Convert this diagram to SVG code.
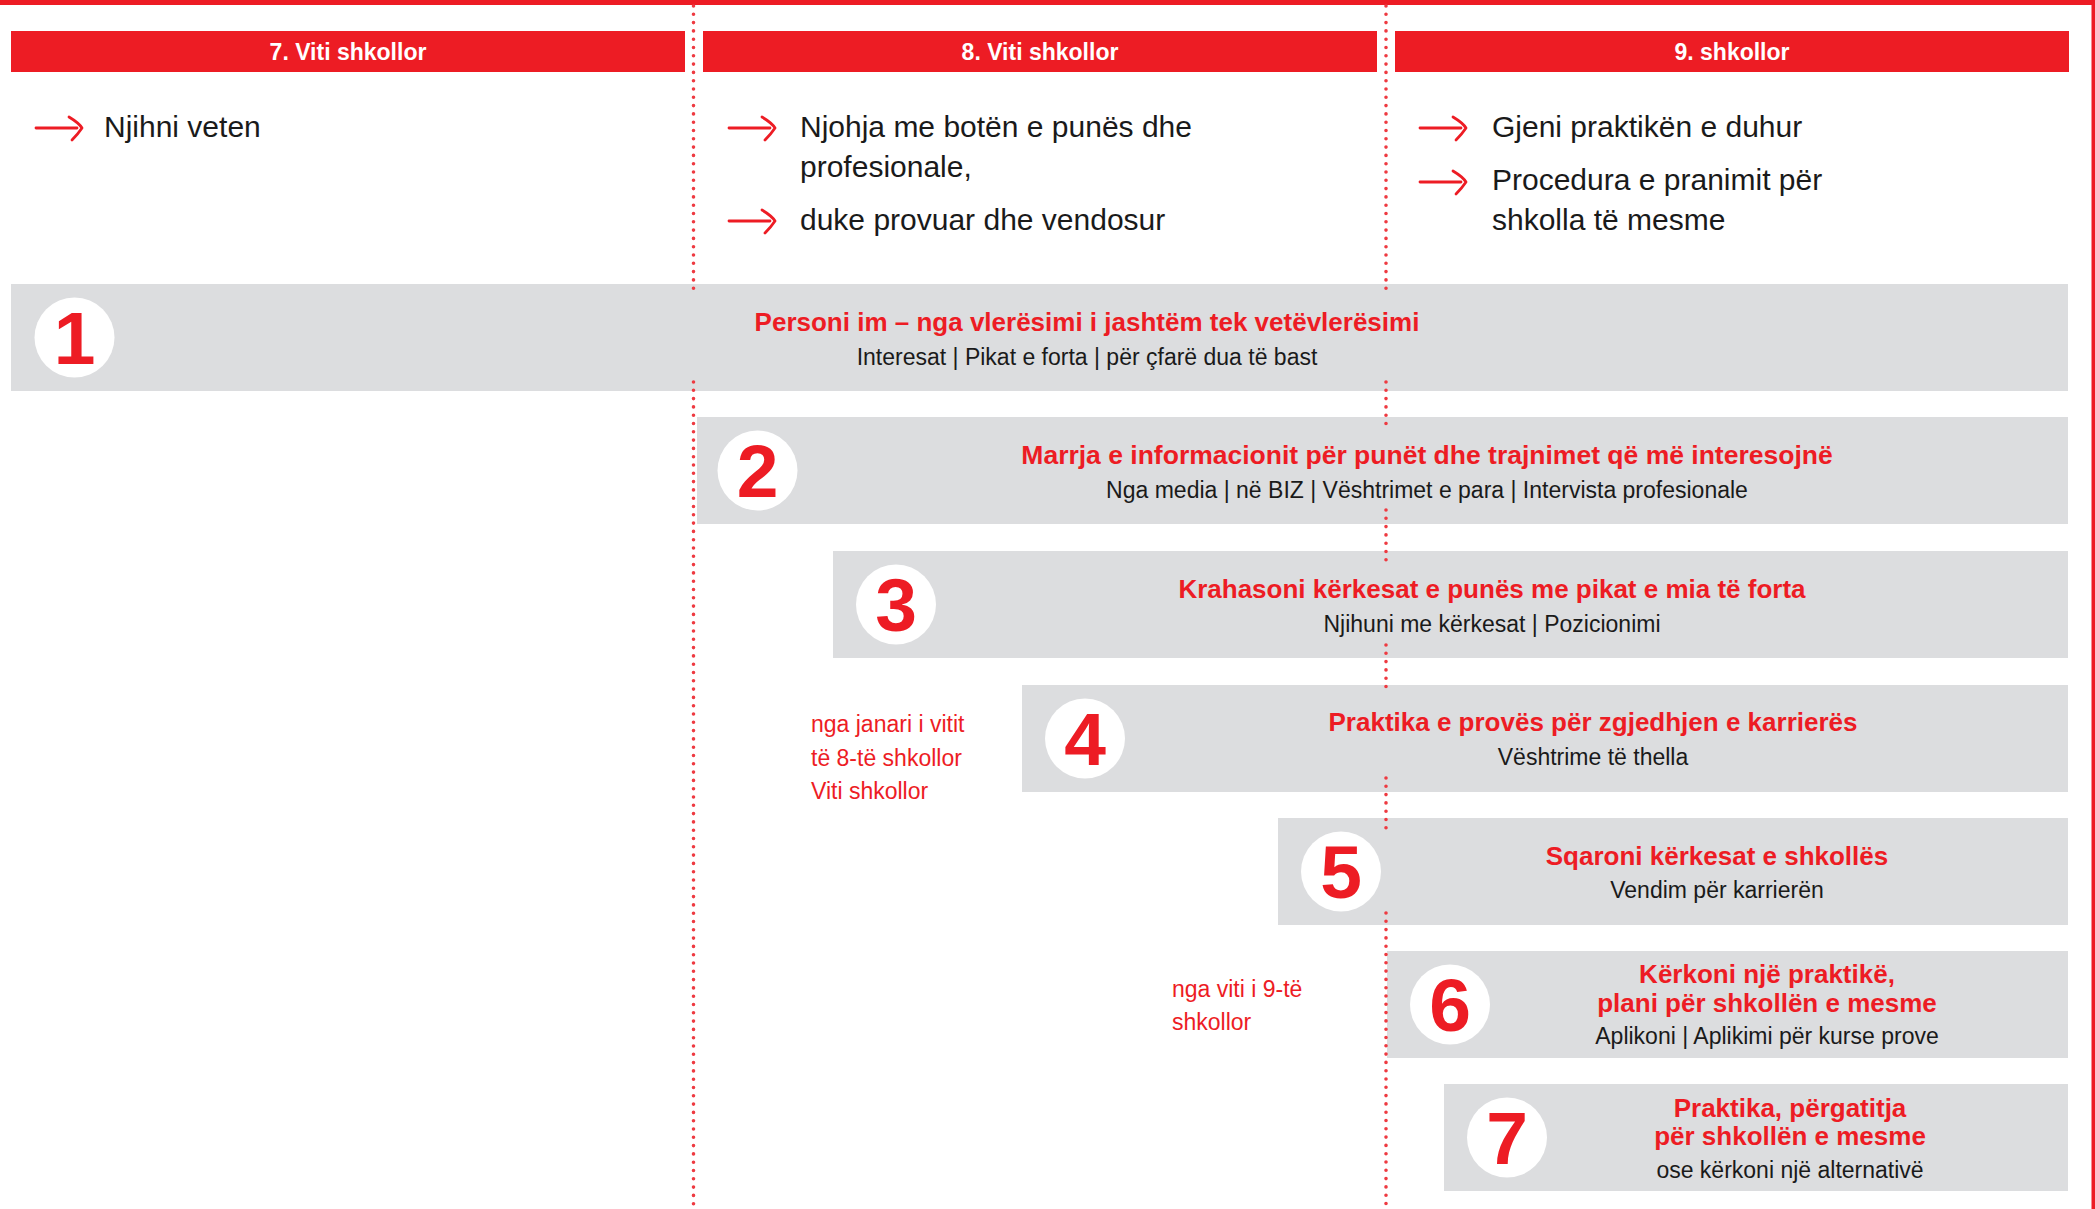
<svg xmlns="http://www.w3.org/2000/svg" xmlns:xlink="http://www.w3.org/1999/xlink" width="2095" height="1209" viewBox="0 0 2095 1209">
<style>
.hdr{fill:#ED1C24}
.hdrt{font-family:"Liberation Sans",Arial,sans-serif;font-weight:bold;font-size:23px;fill:#fff;text-anchor:middle}
.bul{font-family:"Liberation Sans",Arial,sans-serif;font-size:30px;fill:#1a1a1a}
.box{fill:#DCDDDF}
.circ{fill:#fff}
.num{font-family:"Liberation Sans",Arial,sans-serif;font-weight:bold;font-size:75px;fill:#ED1C24;text-anchor:middle}
.tt{font-family:"Liberation Sans",Arial,sans-serif;font-weight:bold;font-size:26px;fill:#ED1C24;text-anchor:middle}
.st{font-family:"Liberation Sans",Arial,sans-serif;font-size:23px;fill:#1a1a1a;text-anchor:middle}
.side{font-family:"Liberation Sans",Arial,sans-serif;font-size:23px;fill:#ED1C24}
.dot{stroke:#EE3A41;stroke-width:3.6;stroke-dasharray:0 8.3;stroke-linecap:round;fill:none}
.arw{stroke:#ED1C24;stroke-width:2.8;fill:none;stroke-linecap:round;stroke-linejoin:round}
</style>
<defs>
<g id="arrow">
<path class="arw" d="M0,0 L41,0"/>
<path class="arw" d="M33,-11 Q43,-5 46,0 Q42,6 36,12"/>
</g>
</defs>
<rect x="0" y="0" width="2095" height="5" fill="#ED1C24"/>
<rect x="2091.5" y="0" width="3.5" height="1209" fill="#ED1C24"/>

<g id="header1"><rect class="hdr" x="11" y="31" width="674" height="41"/><text class="hdrt" x="348" y="60">7. Viti shkollor</text></g>
<g id="header2"><rect class="hdr" x="703" y="31" width="674" height="41"/><text class="hdrt" x="1040" y="60">8. Viti shkollor</text></g>
<g id="header3"><rect class="hdr" x="1395" y="31" width="674" height="41"/><text class="hdrt" x="1732" y="60">9. shkollor</text></g>

<g id="bullets1"><use xlink:href="#arrow" x="36" y="128"/><text class="bul" x="104" y="137">Njihni veten</text></g>
<g id="bullets2">
<use xlink:href="#arrow" x="729" y="128"/><text class="bul" x="800" y="137">Njohja me botën e punës dhe</text>
<text class="bul" x="800" y="177">profesionale,</text>
<use xlink:href="#arrow" x="729" y="221"/><text class="bul" x="800" y="230">duke provuar dhe vendosur</text>
</g>
<g id="bullets3">
<use xlink:href="#arrow" x="1420" y="128"/><text class="bul" x="1492" y="137">Gjeni praktikën e duhur</text>
<use xlink:href="#arrow" x="1420" y="182"/><text class="bul" x="1492" y="190">Procedura e pranimit për</text>
<text class="bul" x="1492" y="230">shkolla të mesme</text>
</g>

<g id="step1"><rect class="box" x="11" y="284" width="2057" height="107"/><circle class="circ" cx="74.5" cy="337.5" r="40"/><text class="num" x="74.5" y="364">1</text>
<text class="tt" x="1087" y="330.5">Personi im – nga vlerësimi i jashtëm tek vetëvlerësimi</text>
<text class="st" x="1087" y="364.5">Interesat | Pikat e forta | për çfarë dua të bast</text></g>

<g id="step2"><rect class="box" x="697" y="417" width="1371" height="107"/><circle class="circ" cx="757.5" cy="470.5" r="40"/><text class="num" x="757.5" y="497">2</text>
<text class="tt" x="1427" y="463.5" style="font-size:26.5px">Marrja e informacionit për punët dhe trajnimet që më interesojnë</text>
<text class="st" x="1427" y="497.5">Nga media | në BIZ | Vështrimet e para | Intervista profesionale</text></g>

<g id="step3"><rect class="box" x="833" y="551" width="1235" height="107"/><circle class="circ" cx="896" cy="604.5" r="40"/><text class="num" x="896" y="631">3</text>
<text class="tt" x="1492" y="597.5">Krahasoni kërkesat e punës me pikat e mia të forta</text>
<text class="st" x="1492" y="631.5">Njihuni me kërkesat | Pozicionimi</text></g>

<g id="step4"><rect class="box" x="1022" y="685" width="1046" height="107"/><circle class="circ" cx="1085" cy="738.5" r="40"/><text class="num" x="1085" y="765">4</text>
<text class="tt" x="1593" y="731">Praktika e provës për zgjedhjen e karrierës</text>
<text class="st" x="1593" y="765">Vështrime të thella</text></g>

<g id="step5"><rect class="box" x="1278" y="818" width="790" height="107"/><circle class="circ" cx="1341" cy="871.5" r="40"/><text class="num" x="1341" y="898">5</text>
<text class="tt" x="1717" y="864.5">Sqaroni kërkesat e shkollës</text>
<text class="st" x="1717" y="898">Vendim për karrierën</text></g>

<g id="step6"><rect class="box" x="1387" y="951" width="681" height="107"/><circle class="circ" cx="1450" cy="1004.5" r="40"/><text class="num" x="1450" y="1031">6</text>
<text class="tt" x="1767" y="983">Kërkoni një praktikë,</text>
<text class="tt" x="1767" y="1011.5">plani për shkollën e mesme</text>
<text class="st" x="1767" y="1044">Aplikoni | Aplikimi për kurse prove</text></g>

<g id="step7"><rect class="box" x="1444" y="1084" width="624" height="107"/><circle class="circ" cx="1507" cy="1137.5" r="40"/><text class="num" x="1507" y="1164">7</text>
<text class="tt" x="1790" y="1116.5">Praktika, përgatitja</text>
<text class="tt" x="1790" y="1145">për shkollën e mesme</text>
<text class="st" x="1790" y="1177.5">ose kërkoni një alternativë</text></g>

<g id="note1"><text class="side" x="811" y="732">nga janari i vitit</text><text class="side" x="811" y="765.5">të 8-të shkollor</text><text class="side" x="811" y="799">Viti shkollor</text></g>
<g id="note2"><text class="side" x="1172" y="997">nga viti i 9-të</text><text class="side" x="1172" y="1029.5">shkollor</text></g>

<g id="connectors">
<path class="dot" d="M693.5,6 V289 M693.5,382 V1209"/>
<path class="dot" d="M1386,6 V289 M1386,382 V428 M1386,510 V561 M1386,645 V694 M1386,778 V828 M1386,913 V1209"/>
</g>
</svg>
